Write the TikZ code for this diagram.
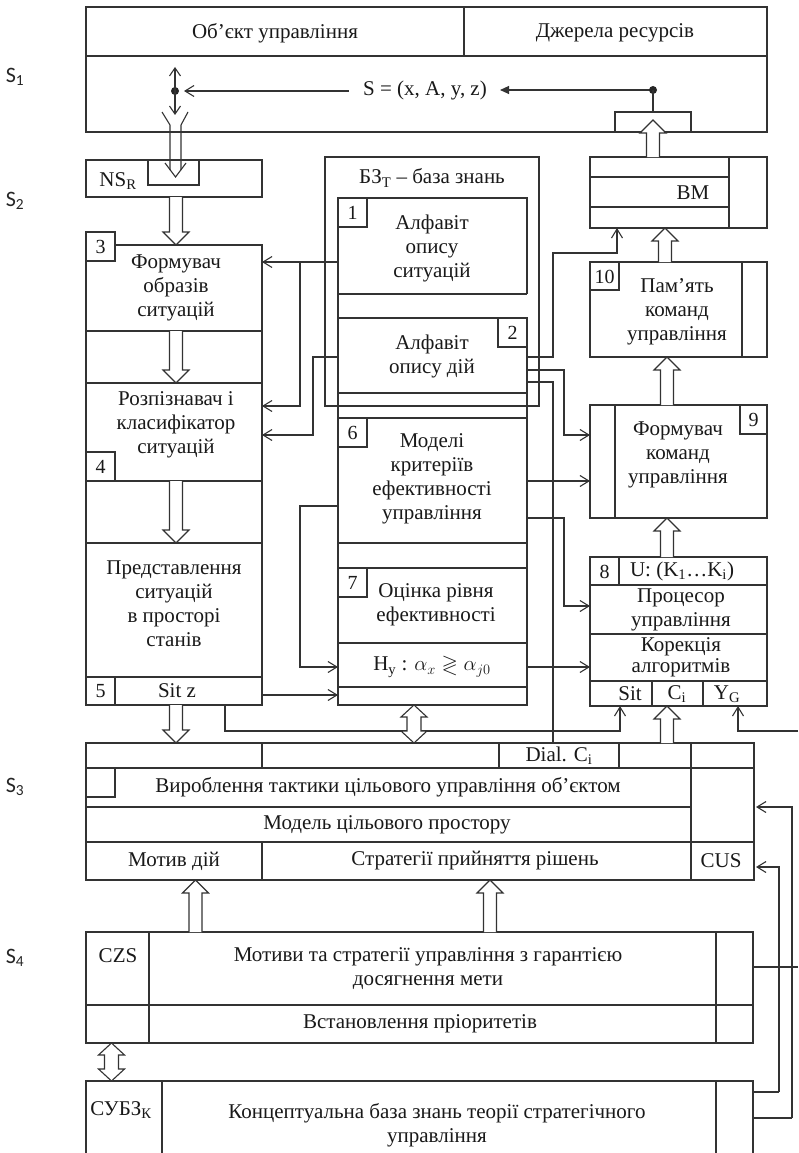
\documentclass[tikz,border=0pt]{standalone}
\usepackage{fontspec}
\setmainfont{Liberation Serif}
\newfontfamily\carl{Carlito}
\usepackage{amssymb}
\usetikzlibrary{arrows.meta}
\tikzset{
  ln/.style={draw=black!80, line width=1.1pt},
  barb/.style={-{Straight Barb[length=9pt,width=11pt]}},
  txt/.style={font=\fontsize{21}{24}\selectfont, align=center, inner sep=0pt, text=black!90},
  num/.style={font=\fontsize{20}{24}\selectfont, inner sep=0pt, text=black!90},
  slab/.style={font=\fontsize{22}{24}\selectfont\carl, inner sep=0pt, text=black!85},
}
\newcommand{\harrUp}[3]{% x, tail y (bottom), tip y (top)
  \draw[ln,fill=white] (#1-6.5,#2) -- (#1-6.5,#3+13) -- (#1-13,#3+13) -- (#1,#3) -- (#1+13,#3+13) -- (#1+6.5,#3+13) -- (#1+6.5,#2);}
\newcommand{\harrDown}[3]{% x, tail y (top), tip y (bottom)
  \draw[ln,fill=white] (#1-6.5,#2) -- (#1-6.5,#3-13) -- (#1-13,#3-13) -- (#1,#3) -- (#1+13,#3-13) -- (#1+6.5,#3-13) -- (#1+6.5,#2);}
\newcommand{\harrBoth}[3]{% x, top tip, bottom tip
  \draw[ln,fill=white] (#1,#2) -- (#1+13,#2+12) -- (#1+7,#2+12) -- (#1+7,#3-12) -- (#1+13,#3-12) -- (#1,#3) -- (#1-13,#3-12) -- (#1-7,#3-12) -- (#1-7,#2+12) -- (#1-13,#2+12) -- cycle;}
\begin{document}
\begin{tikzpicture}[x=1pt,y=-1pt]
\useasboundingbox[fill=white] (0,0) rectangle (798,1153);

% ---- S labels
\node[slab] (s1) at (15,77) {S\textsubscript{1}};
\node[slab] (s2) at (15,201) {S\textsubscript{2}};
\node[slab] (s3) at (15,787) {S\textsubscript{3}};
\node[slab] (s4) at (15,958) {S\textsubscript{4}};

% ---- top box S1
\draw[ln] (86,7) rectangle (767,132);
\draw[ln] (86,56) -- (767,56);
\draw[ln] (464,7) -- (464,56);
\node[txt] (obj) at (275,33) {Об’єкт управління};
\node[txt] (res) at (615,33) {Джерела ресурсів};
\node[txt] (S) at (425,90) {S = (x, A, y, z)};
\coordinate (dotL) at (175,91);
\coordinate (dotR) at (653,90);
\draw[ln,barb] ([xshift=-14pt]S.west |- dotL) -- ([xshift=9pt]dotL);
\fill[black!85] (dotL) circle (4pt);
\draw[ln,{Straight Barb[length=8pt,width=11pt]}-{Straight Barb[length=8pt,width=11pt]}] (175,67) -- (175,115);
\draw[ln] (162,112) -- (170,125) -- (170,170);
\draw[ln] (188,112) -- (181,125) -- (181,170);
\draw[ln,-{Triangle[length=9pt,width=8pt]}] (dotR) -- ([xshift=13pt]S.east |- dotR);
\fill[black!85] (dotR) circle (4pt);
\draw[ln] (dotR) -- (653,112);
\draw[ln] (615,112) rectangle (691,132);

% ---- NS_R
\draw[ln] (86,160) rectangle (262,197);
\draw[ln] (148,160) rectangle (199,185);
\node[txt] (nsr) at (118,181) {NS\textsubscript{R}};
\draw[ln] (165,163) -- (175.5,177) -- (186,163);

% ---- left column
\draw[ln] (86,232) -- (86,705) -- (262,705) -- (262,245) -- (115,245);
\draw[ln] (86,232) rectangle (115,261);
\node[num] (n3) at (100.5,247) {3};
\foreach \yy in {331,383,481,543,677} \draw[ln] (86,\yy) -- (262,\yy);
\draw[ln] (86,452) rectangle (115,481);
\node[num] (n4) at (100.5,467) {4};
\draw[ln] (115,677) -- (115,705);
\node[num] (n5) at (100.5,691.5) {5};
\node[txt] (t3) at (176,288) {Формувач\\образів\\ситуацій};
\node[txt] (t4) at (176,425) {Розпізнавач і\\класифікатор\\ситуацій};
\node[txt] (t5) at (174,604) {Представлення\\ситуацій\\в просторі\\станів};
\node[txt] (sitz) at (177,691) {Sit z};

% ---- knowledge base (middle)
\draw[ln] (325,157) rectangle (539,406);
\node[txt] (bz) at (432,178) {БЗ\textsubscript{T} – база знань};
\draw[ln] (338,198) -- (338,705) -- (527,705) -- (527,318);
\draw[ln] (527,294) -- (527,198) -- (338,198);
\foreach \yy in {294,318,393,418,543,568,643,687} \draw[ln] (338,\yy) -- (527,\yy);
\draw[ln] (338,198) rectangle (367,227);
\node[num] (n1) at (352.5,212.5) {1};
\draw[ln] (498,318) rectangle (527,347);
\node[num] (n2) at (512.5,332.5) {2};
\draw[ln] (338,418) rectangle (367,447);
\node[num] (n6) at (352.5,432.5) {6};
\draw[ln] (338,568) rectangle (367,597);
\node[num] (n7) at (352.5,582.5) {7};
\node[txt] (t1) at (432,248) {Алфавіт\\опису\\ситуацій};
\node[txt] (t2) at (432,356) {Алфавіт\\опису дій};
\node[txt] (t6) at (432,479) {Моделі\\критеріїв\\ефективності\\управління};
\node[txt] (t7) at (436,605) {Оцінка рівня\\ефективності};
\node[txt] (hy) at (432,667) {H\textsubscript{y} : $\alpha_x \gtrless \alpha_{j0}$};

% ---- right column
\draw[ln] (590,157) rectangle (767,228);
\draw[ln] (729,157) -- (729,228);
\draw[ln] (590,177) -- (729,177);
\draw[ln] (590,207) -- (729,207);
\node[txt] (bm) at (693,193) {BM};

\draw[ln] (590,262) rectangle (767,357);
\draw[ln] (742,262) -- (742,357);
\draw[ln] (590,262) rectangle (619,290);
\node[num] (n10) at (604.5,276.5) {10};
\node[txt] (t10) at (677,312) {Пам’ять\\команд\\управління};

\draw[ln] (590,405) rectangle (767,518);
\draw[ln] (615,405) -- (615,518);
\draw[ln] (740,405) rectangle (767,434);
\node[num] (n9) at (753.5,419.5) {9};
\node[txt] (t9) at (678,455) {Формувач\\команд\\управління};

\draw[ln] (590,557) rectangle (767,706);
\foreach \yy in {585,634,681} \draw[ln] (590,\yy) -- (767,\yy);
\draw[ln] (619,557) -- (619,585);
\node[num] (n8) at (604.5,571.5) {8};
\node[txt] (uk) at (682,571) {U: (K\textsubscript{1}…K\textsubscript{i})};
\node[txt] (t8a) at (681,609.5) {Процесор\\управління};
\node[txt,font=\fontsize{21}{21}\selectfont] (t8b) at (681,657.5) {Корекція\\алгоритмів};
\draw[ln] (652,681) -- (652,706);
\draw[ln] (703,681) -- (703,706);
\node[txt] (sit8) at (630,694) {Sit};
\node[txt] (ci8) at (677,694) {C\textsubscript{i}};
\node[txt] (yg8) at (727,694) {Y\textsubscript{G}};

% ---- S3 box
\draw[ln] (86,743) rectangle (754,880);
\draw[ln] (86,768) -- (754,768);
\draw[ln] (86,807) -- (691,807);
\draw[ln] (86,842) -- (754,842);
\draw[ln] (262,743) -- (262,768);
\draw[ln] (499,743) -- (499,768);
\draw[ln] (619,743) -- (619,768);
\draw[ln] (691,743) -- (691,880);
\draw[ln] (262,842) -- (262,880);
\draw[ln] (86,768) rectangle (115,797);
\node[txt] (dial) at (559,756) {Dial. C\textsubscript{i}};
\node[txt] (tact) at (388,787) {Вироблення тактики цільового управління об’єктом};
\node[txt] (model) at (387,825) {Модель цільового простору};
\node[txt] (motiv) at (174,861) {Мотив дій};
\node[txt] (strat) at (475,861) {Стратегії прийняття рішень};
\node[txt] (cus) at (721,861) {CUS};

% ---- S4 box
\draw[ln] (86,932) rectangle (753,1043);
\draw[ln] (86,1005) -- (753,1005);
\draw[ln] (149,932) -- (149,1043);
\draw[ln] (716,932) -- (716,1043);
\node[txt] (czs) at (118,956) {CZS};
\node[txt] (mot) at (428,969) {Мотиви та стратегії управління з гарантією\\досягнення мети};
\node[txt] (prior) at (420,1024) {Встановлення пріоритетів};

% ---- S5 box
\draw[ln] (86,1160) -- (86,1081) -- (753,1081) -- (753,1160);
\draw[ln] (162,1081) -- (162,1160);
\draw[ln] (716,1081) -- (716,1160);
\node[txt] (subz) at (121,1110) {СУБЗ\textsubscript{К}};
\node[txt] (konc) at (437,1125) {Концептуальна база знань теорії стратегічного\\управління};

% ---- thin connectors
\draw[ln,barb] (338,262) -- (262,262);
\draw[ln,barb] (300,262) -- (300,406) -- (262,406);
\draw[ln,barb] (338,357) -- (313,357) -- (313,435) -- (262,435);
\draw[ln,barb] (338,506) -- (300,506) -- (300,667) -- (338,667);
\draw[ln,barb] (262,695) -- (338,695);
\draw[ln,barb] (225,705) -- (225,731) -- (620,731) -- (620,706);

\draw[ln,barb] (527,357) -- (553,357) -- (553,253) -- (617,253) -- (617,228);
\draw[ln,barb] (527,370) -- (564,370) -- (564,435) -- (590,435);
\draw[ln] (527,382) -- (553,382) -- (553,743);
\draw[ln,barb] (527,481) -- (590,481);
\draw[ln,barb] (527,518) -- (564,518) -- (564,606) -- (590,606);
\draw[ln,barb] (527,667) -- (590,667);

\draw[ln,barb] (798,731) -- (738,731) -- (738,706);
\draw[ln,barb] (792,1118) -- (792,807) -- (756,807);
\draw[ln] (753,1118) -- (792,1118);
\draw[ln,barb] (779,1092) -- (779,867) -- (756,867);
\draw[ln] (753,1092) -- (779,1092);
\draw[ln] (753,967) -- (798,967);

% ---- hollow (block) arrows
\harrUp{653}{157}{120}
\harrDown{176}{197}{245}
\harrDown{176}{331}{383}
\harrDown{176}{481}{543}
\harrDown{176}{705}{743}
\harrBoth{414}{705}{743}
\harrUp{665}{262}{228}
\harrUp{667}{405}{357}
\harrUp{667}{557}{518}
\harrUp{667}{743}{706}
\harrUp{195.5}{932}{880}
\harrUp{490}{932}{880}
\harrBoth{111.5}{1043}{1081}
\end{tikzpicture}
\end{document}
